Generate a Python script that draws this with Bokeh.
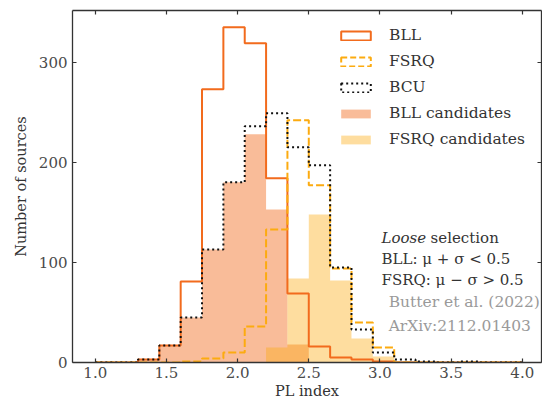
from bokeh.plotting import figure
from bokeh.models import (Range1d, LinearAxis, SingleIntervalTicker, Legend,
                          LegendItem, Label, NumeralTickFormatter)
from bokeh.embed import file_html
from bokeh.resources import INLINE

# Histogram bins in PL index (width 0.15 from 1.0 to 4.0)
bin_edges = [1.0, 1.15, 1.3, 1.45, 1.6, 1.75, 1.9, 2.05, 2.2, 2.35, 2.5,
             2.65, 2.8, 2.95, 3.1, 3.25, 3.4, 3.55, 3.7, 3.85, 4.0]

# Counts per bin
bll_counts = [0, 0, 3, 17, 81, 273, 335, 319, 184, 69,
              16, 5, 3, 1, 0, 0, 0, 0, 0, 0]
fsrq_counts = [0, 0, 0, 0, 1, 4, 10, 36, 133, 242,
               177, 94, 40, 15, 0, 0, 0, 0, 0, 0]
bcu_counts = [0, 0, 3, 17, 45, 113, 180, 236, 249, 215,
              197, 95, 33, 10, 3, 1, 0, 1, 0, 0]
bll_cand_counts = [0, 0, 3, 17, 45, 113, 180, 228, 153, 18,
                   0, 0, 0, 0, 0, 0, 0, 0, 0, 0]
fsrq_cand_counts = [0, 0, 0, 0, 0, 0, 0, 0, 15, 84,
                    148, 82, 24, 6, 1, 0, 0, 0, 0, 0]

series_labels = ["BLL", "FSRQ", "BCU", "BLL candidates", "FSRQ candidates"]

BLL_COLOR = "#f26b1d"
FSRQ_COLOR = "#fcab10"
BCU_COLOR = "#111111"
AXIS_COLOR = "#333333"
TEXT_COLOR = "#333333"
SERIF = "'DejaVu Serif', serif"

p = figure(width=542, height=403, output_backend="svg", toolbar_location=None,
           x_range=Range1d(0.84, 4.135), y_range=Range1d(0, 351.75),
           min_border_left=72, min_border_right=1, min_border_top=10,
           min_border_bottom=41)
p.xgrid.visible = False
p.ygrid.visible = False
p.outline_line_color = None
p.background_fill_color = "white"
p.border_fill_color = "white"


def step_y(counts):
    return list(counts) + [counts[-1]]


zeros = [0] * len(bin_edges)

# filled candidate histograms
r_bll_cand = p.varea_step(x=bin_edges, y1=zeros, y2=step_y(bll_cand_counts),
                          step_mode="after", fill_color=BLL_COLOR, fill_alpha=0.45)
r_fsrq_cand = p.varea_step(x=bin_edges, y1=zeros, y2=step_y(fsrq_cand_counts),
                           step_mode="after", fill_color=FSRQ_COLOR, fill_alpha=0.4)

# outlined histograms
p.step(x=bin_edges, y=step_y(bll_counts), mode="after",
       line_color=BLL_COLOR, line_width=2)
p.step(x=bin_edges, y=step_y(fsrq_counts), mode="after",
       line_color=FSRQ_COLOR, line_width=2, line_dash="8 3")
p.step(x=bin_edges, y=step_y(bcu_counts), mode="after",
       line_color=BCU_COLOR, line_width=2, line_dash="2 3")

# box-shaped legend handles for the outlined histograms
lefts, rights = bin_edges[:-1], bin_edges[1:]
r_bll_box = p.quad(left=lefts, right=rights, bottom=0, top=bll_counts,
                   fill_alpha=0, line_color=BLL_COLOR, line_width=2, visible=False)
r_fsrq_box = p.quad(left=lefts, right=rights, bottom=0, top=fsrq_counts,
                    fill_alpha=0, line_color=FSRQ_COLOR, line_width=2,
                    line_dash="6 3", visible=False)
r_bcu_box = p.quad(left=lefts, right=rights, bottom=0, top=bcu_counts,
                   fill_alpha=0, line_color=BCU_COLOR, line_width=2,
                   line_dash="2 3", visible=False)

legend = Legend(items=[
    LegendItem(label=series_labels[0], renderers=[r_bll_box]),
    LegendItem(label=series_labels[1], renderers=[r_fsrq_box]),
    LegendItem(label=series_labels[2], renderers=[r_bcu_box]),
    LegendItem(label=series_labels[3], renderers=[r_bll_cand]),
    LegendItem(label=series_labels[4], renderers=[r_fsrq_cand]),
], location=(265, 214), glyph_width=37, glyph_height=11, label_standoff=15,
    spacing=8, padding=0, margin=0, border_line_alpha=0,
    background_fill_alpha=0, label_text_font=SERIF,
    label_text_font_size="15.5px", label_text_color=TEXT_COLOR)
p.add_layout(legend)

# axes
x_ticker = SingleIntervalTicker(interval=0.5, num_minor_ticks=0)
y_ticker = SingleIntervalTicker(interval=100, num_minor_ticks=0)


def style_axis(ax):
    ax.axis_line_color = AXIS_COLOR
    ax.axis_line_width = 1.3
    ax.major_tick_line_color = AXIS_COLOR
    ax.major_tick_line_width = 1.2
    ax.major_tick_in = 4
    ax.major_tick_out = 0
    ax.minor_tick_line_color = None
    ax.major_label_text_font = SERIF
    ax.major_label_text_font_size = "15px"
    ax.major_label_text_color = "#4a4a4a"
    ax.axis_label_text_font = SERIF
    ax.axis_label_text_font_size = "14.5px"
    ax.axis_label_text_font_style = "normal"
    ax.axis_label_text_color = TEXT_COLOR


p.xaxis.ticker = x_ticker
p.yaxis.ticker = y_ticker
style_axis(p.xaxis[0])
style_axis(p.yaxis[0])
p.xaxis.formatter = NumeralTickFormatter(format="0.0")
p.xaxis.axis_label = "PL index"
p.yaxis.axis_label = "Number of sources"
p.xaxis.major_label_standoff = 4
p.xaxis.axis_label_standoff = 2
p.yaxis.major_label_standoff = 5
p.yaxis.axis_label_standoff = 7

# tick marks (no labels) along the top and right edges
top_axis = LinearAxis(ticker=SingleIntervalTicker(interval=0.5, num_minor_ticks=0))
right_axis = LinearAxis(ticker=SingleIntervalTicker(interval=100, num_minor_ticks=0))
for ax in (top_axis, right_axis):
    style_axis(ax)
    ax.major_label_text_font_size = "1px"
    ax.major_label_text_color = None
    ax.major_label_standoff = 0
p.add_layout(top_axis, "above")
p.add_layout(right_axis, "right")

# selection notes
note_kw = dict(text_font=SERIF, text_font_size="15px", text_baseline="middle",
               text_color=TEXT_COLOR)
p.add_layout(Label(x=3.011, y=124.6, text="Loose", text_font_style="italic", **note_kw))
p.add_layout(Label(x=3.356, y=124.6, text="selection", **note_kw))
p.add_layout(Label(x=3.011, y=103.7, text="BLL: \u03bc + \u03c3 < 0.5", **note_kw))
p.add_layout(Label(x=3.011, y=82.8, text="FSRQ: \u03bc \u2212 \u03c3 > 0.5", **note_kw))

ref_kw = dict(text_font=SERIF, text_font_size="15.5px", text_baseline="middle",
              text_color="#9a9a9a")
p.add_layout(Label(x=3.061, y=60.1, text="Butter et al. (2022)", **ref_kw))
p.add_layout(Label(x=3.061, y=36.9, text="ArXiv:2112.01403", **ref_kw))

open("out.html", "w").write(file_html(p, INLINE))
